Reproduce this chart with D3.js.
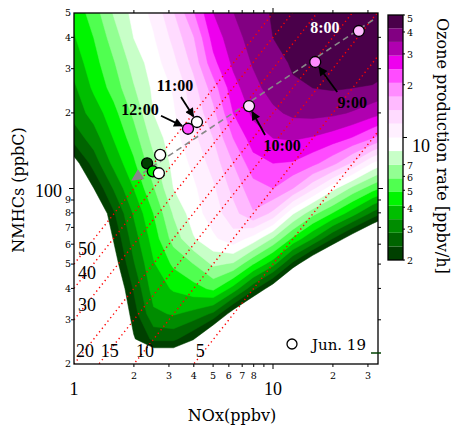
<!DOCTYPE html>
<html>
<head>
<meta charset="utf-8">
<script src="https://cdn.jsdelivr.net/npm/d3@7"></script>
<style>
  body { margin: 0; background: #fff; }
  text { font-family: "DejaVu Serif", serif; fill: #000; }
  .big { font-family: "Liberation Serif", serif; font-size: 18px; }
  .small { font-size: 9.5px; }
  .lbl { font-family: "Liberation Serif", serif; font-weight: bold; font-size: 16px; }
</style>
</head>
<body>
<div id="chart"></div>
<script>
// grid of the model field, NOx along x, NMHCs along y (top row first)
const noxGrid = [1, 1.26, 1.58, 2.0, 2.51, 3.16, 3.98, 5.01, 6.31, 7.94, 10, 12.6, 15.8, 20.0, 25.1, 31.6, 39.8];
const nmhcGrid = [501, 398, 316, 251, 200, 158, 126, 100, 79.4, 63.1, 50.1, 39.8, 31.6, 25.1, 20.0];
// ozone production rate [ppbv/h]
const rateGrid = [
  [4.32, 5.35, 7.13, 8.84, 10.5, 14.1, 20.1, 29.3, 35.0, 39.0, 42.7, 45.1, 47.6, 50.0, 52.8, 54.7, 56.7],
  [4.02, 4.90, 6.40, 8.38, 9.84, 12.6, 16.8, 26.3, 32.7, 37.7, 42.0, 44.3, 46.7, 49.3, 50.9, 51.8, 51.8],
  [3.68, 4.56, 5.75, 7.52, 9.16, 11.4, 15.1, 23.2, 30.4, 35.7, 39.8, 42.7, 45.1, 46.7, 47.6, 47.6, 44.3],
  [3.30, 4.24, 5.26, 6.88, 8.68, 10.2, 13.3, 18.7, 27.3, 33.2, 37.7, 41.2, 42.0, 42.7, 42.0, 41.2, 38.4],
  [3.07, 3.68, 4.60, 6.07, 8.38, 9.75, 12.5, 16.2, 24.5, 30.4, 33.8, 36.4, 37.0, 36.4, 34.5, 31.5, 28.3],
  [2.57, 3.13, 4.13, 5.35, 7.52, 9.32, 11.4, 14.3, 20.5, 26.8, 29.3, 29.9, 28.8, 26.8, 24.1, 20.5, 16.5],
  [1.82, 2.59, 3.61, 4.72, 6.64, 8.84, 10.4, 12.9, 17.1, 22.8, 24.5, 24.1, 21.6, 18.1, 13.8, 9.84, 7.80],
  [1.28, 2.00, 2.91, 4.09, 5.75, 8.38, 9.66, 11.6, 15.1, 19.1, 20.5, 17.1, 12.4, 8.84, 6.64, 5.26, 4.32],
  [0.94, 1.46, 2.33, 3.48, 4.90, 7.13, 9.16, 11.0, 13.3, 16.8, 13.6, 8.53, 6.18, 4.81, 3.68, 2.71, 2.07],
  [0.83, 1.30, 2.04, 3.13, 4.43, 6.29, 8.23, 9.66, 11.2, 9.32, 6.88, 4.72, 3.42, 2.39, 1.73, 1.28, 0.98],
  [0.73, 1.15, 1.80, 2.81, 4.02, 5.07, 5.86, 7.26, 6.88, 4.98, 3.68, 2.27, 1.53, 1.11, 0.79, 0.59, 0.45],
  [0.64, 1.00, 1.56, 2.43, 3.74, 4.17, 4.56, 5.07, 3.81, 2.52, 1.73, 1.07, 0.72, 0.52, 0.40, 0.31, 0.23],
  [0.57, 0.89, 1.40, 2.19, 3.30, 3.48, 3.24, 2.76, 1.76, 1.21, 0.82, 0.50, 0.37, 0.28, 0.23, 0.20, 0.16],
  [0.51, 0.80, 1.26, 1.96, 2.50, 2.50, 2.04, 1.33, 0.85, 0.57, 0.40, 0.28, 0.23, 0.20, 0.16, 0.14, 0.11],
  [0.40, 0.63, 0.98, 1.28, 1.33, 1.33, 1.11, 0.63, 0.40, 0.28, 0.20, 0.14, 0.11, 0.10, 0.08, 0.07, 0.06]
];

const rateLevels = [2, 2.39, 2.86, 3.42, 4.09, 4.89, 5.85, 7.0, 8.37, 10, 12.0, 14.3, 17.1, 20.5, 24.5, 29.3, 35.1, 42.0, 50];
const levelColors = ["#004000", "#006400", "#008c00", "#00be00", "#00f500", "#50ff50", "#92ff92", "#c8ffc8", "#ffffff",
  "#fff0ff", "#ffdbff", "#ffbaff", "#ff8cff", "#ff4cff", "#ee00ee", "#b000b0", "#820082", "#4a004a"];
const cbTicks = [2, 3, 4, 5, 6, 7, 10, 20, 30, 40, 50];

// NMHC/NOx ratio lines
const ratios = [50, 40, 30, 20, 15, 10, 5];

// observations, Jun. 19
const obsTime = ["8:00", "9:00", "10:00", "11:00", "12:00", "13:00", "14:00", "15:00", "16:00"];
const obsNOx = [27.0, 16.3, 7.58, 4.15, 3.74, 2.71, 2.33, 2.49, 2.67];
const obsNMHC = [424, 319, 213, 184, 173, 136, 126, 117, 115];
const obsRate = [15, 19, 13, 9.2, 22, 9.0, 2.2, 4.5, 9.0];
// regression line of the morning points (start, end)
const trendNOx = [31.8, 1.96];
const trendNMHC = [469, 108];

const xTicksMinor = [2, 3, 4, 5, 6, 7, 8, 9, 20, 30];
const xLabelsMinor = [2, 3, 4, 5, 6, 7, 8, 20, 30];
const yTicksMinor = [30, 40, 50, 60, 70, 80, 90, 200, 300, 400];
const yLabelsMinor = [20, 30, 40, 50, 60, 70, 80, 90, 200, 300, 400, 500];

const W = 451, H = 425;
const svg = d3.select("#chart").append("svg").attr("width", W).attr("height", H);

const x = d3.scaleLog().domain([1, 33.7]).range([74, 378]);
const y = d3.scaleLog().domain([20, 500]).range([364, 13]);

const defs = svg.append("defs");
defs.append("clipPath").attr("id", "plotclip").append("rect")
  .attr("x", 74).attr("y", 13).attr("width", 304).attr("height", 351);
defs.append("marker").attr("id", "blackhead")
  .attr("viewBox", "0 0 10 10").attr("refX", 9).attr("refY", 5)
  .attr("markerWidth", 11).attr("markerHeight", 9).attr("markerUnits", "userSpaceOnUse")
  .attr("orient", "auto")
  .append("path").attr("d", "M0,0L10,5L0,10Z").attr("fill", "#000");
defs.append("marker").attr("id", "grayhead")
  .attr("viewBox", "0 0 10 10").attr("refX", 9).attr("refY", 5)
  .attr("markerWidth", 18).attr("markerHeight", 12).attr("markerUnits", "userSpaceOnUse")
  .attr("orient", "auto")
  .append("path").attr("d", "M0,0L10,5L0,10Z").attr("fill", "#888");

// ---- contour field ----
const n = noxGrid.length, m = nmhcGrid.length;
const gx = d3.scaleLinear().domain([0.5, n - 0.5]).range([Math.log10(noxGrid[0]), Math.log10(noxGrid[n - 1])]);
const gy = d3.scaleLinear().domain([0.5, m - 0.5]).range([Math.log10(nmhcGrid[0]), Math.log10(nmhcGrid[m - 1])]);
const toPlot = d3.geoTransform({
  point: function(px, py) { this.stream.point(x(Math.pow(10, gx(px))), y(Math.pow(10, gy(py)))); }
});
const path = d3.geoPath(toPlot);

const field = rateGrid.flat().map(v => Math.log10(v));
const bands = d3.contours().size([n, m])
  .thresholds(rateLevels.slice(0, 18).map(v => Math.log10(v)))(field);

const plot = svg.append("g").attr("clip-path", "url(#plotclip)");
plot.selectAll("path.band")
  .data(bands)
  .enter().append("path")
  .attr("class", "band")
  .attr("d", path)
  .attr("fill", (d, i) => levelColors[i])
  .attr("stroke", (d, i) => levelColors[i])
  .attr("stroke-width", 0.5);

// ratio lines
const line = d3.line().x(d => x(d[0])).y(d => y(d[1]));
plot.selectAll(".ratio")
  .data(ratios)
  .enter().append("path")
  .attr("class", "ratio")
  .attr("d", r => line([[1, r], [33.7, 33.7 * r]]))
  .attr("fill", "none")
  .attr("stroke", "#ff0000")
  .attr("stroke-width", 1.4)
  .attr("stroke-dasharray", "1.3,3.2");

// trend line with arrow
plot.append("path")
  .attr("d", line([[trendNOx[0], trendNMHC[0]], [trendNOx[1], trendNMHC[1]]]))
  .attr("fill", "none")
  .attr("stroke", "#888")
  .attr("stroke-width", 1.6)
  .attr("stroke-dasharray", "6,4")
  .attr("marker-end", "url(#grayhead)");

// ratio labels
svg.selectAll(".rlab")
  .data(ratios)
  .enter().append("text")
  .attr("class", "big")
  .attr("x", r => r > 20 ? 78 : x(20 / r) + 2)
  .attr("y", r => r > 20 ? y(r) - 9 : 357)
  .text(r => r);

// observation points
const fillScale = d3.scaleThreshold().domain(rateLevels.slice(1, 18)).range(levelColors);
const obs = obsTime.map((t, i) => ({ t: t, nox: obsNOx[i], nmhc: obsNMHC[i], rate: obsRate[i] }));
svg.selectAll(".obs")
  .data(obs)
  .enter().append("circle")
  .attr("class", "obs")
  .attr("cx", d => x(d.nox))
  .attr("cy", d => y(d.nmhc))
  .attr("r", 5.5)
  .attr("fill", d => fillScale(d.rate))
  .attr("stroke", "#000")
  .attr("stroke-width", 1.3);

// time labels: offsets of label centre and arrow tail from the point
const notes = [
  { t: "8:00", lx: -34, ly: 2, color: "#fff" },
  { t: "9:00", lx: 37, ly: 46, ax: 22, ay: 30 },
  { t: "10:00", lx: 33, ly: 45, ax: 16, ay: 29 },
  { t: "11:00", lx: -22, ly: -31, ax: -16, ay: -25 },
  { t: "12:00", lx: -48, ly: -14, ax: -27, ay: -13 }
];
notes.forEach(nt => {
  const p = obs.find(o => o.t === nt.t);
  const px = x(p.nox), py = y(p.nmhc);
  if (nt.ax !== undefined) {
    const len = Math.hypot(nt.ax, nt.ay);
    svg.append("line")
      .attr("x1", px + nt.ax).attr("y1", py + nt.ay)
      .attr("x2", px + nt.ax * 6.5 / len).attr("y2", py + nt.ay * 6.5 / len)
      .attr("stroke", "#000").attr("stroke-width", 1.8)
      .attr("marker-end", "url(#blackhead)");
  }
  svg.append("text")
    .attr("class", "lbl")
    .attr("x", px + nt.lx).attr("y", py + nt.ly)
    .attr("text-anchor", "middle")
    .style("fill", nt.color || "#000")
    .text(nt.t);
});

// ---- axes ----
svg.append("rect").attr("x", 74).attr("y", 13).attr("width", 304).attr("height", 351)
  .attr("fill", "none").attr("stroke", "#000").attr("stroke-width", 1.3);

const tickG = svg.append("g").attr("stroke", "#000").attr("stroke-width", 1);
xTicksMinor.concat([10]).forEach(v => {
  const len = v === 10 ? 5 : 3;
  tickG.append("line").attr("x1", x(v)).attr("x2", x(v)).attr("y1", 364).attr("y2", 364 + len);
  tickG.append("line").attr("x1", x(v)).attr("x2", x(v)).attr("y1", 13).attr("y2", 13 - len);
});
yTicksMinor.concat([100]).forEach(v => {
  const len = v === 100 ? 5 : 3;
  tickG.append("line").attr("y1", y(v)).attr("y2", y(v)).attr("x1", 74).attr("x2", 74 - len);
  tickG.append("line").attr("y1", y(v)).attr("y2", y(v)).attr("x1", 378).attr("x2", 378 + len);
});

svg.selectAll(".xl")
  .data(xLabelsMinor)
  .enter().append("text")
  .attr("class", "small")
  .attr("x", d => x(d)).attr("y", 379)
  .attr("text-anchor", "middle")
  .text(d => String(d)[0]);
svg.selectAll(".xb")
  .data([1, 10])
  .enter().append("text")
  .attr("class", "big")
  .attr("x", d => x(d)).attr("y", 395)
  .attr("text-anchor", "middle")
  .text(d => d);

svg.selectAll(".yl")
  .data(yLabelsMinor)
  .enter().append("text")
  .attr("class", "small")
  .attr("x", 71).attr("y", d => y(d)).attr("dy", "0.35em")
  .attr("text-anchor", "end")
  .text(d => String(d)[0]);
svg.append("text").attr("class", "big")
  .attr("x", 62).attr("y", y(100) + 2).attr("dy", "0.35em")
  .attr("text-anchor", "end").text("100");

svg.append("text")
  .attr("x", 232).attr("y", 421)
  .attr("text-anchor", "middle")
  .style("font-size", "16px")
  .text("NOx(ppbv)");
svg.append("text")
  .attr("transform", "translate(24," + 190 + ") rotate(-90)")
  .attr("text-anchor", "middle")
  .style("font-size", "16px")
  .text("NMHCs (ppbC)");

// legend
svg.append("circle").attr("cx", 292).attr("cy", 344).attr("r", 5)
  .attr("fill", "#fff").attr("stroke", "#000").attr("stroke-width", 1.3);
svg.append("text").attr("x", 312).attr("y", 350).style("font-size", "15px").text("Jun. 19");
svg.append("line").attr("x1", 371).attr("x2", 381).attr("y1", 353).attr("y2", 353)
  .attr("stroke", "#004000").attr("stroke-width", 1.5);

// ---- colour bar ----
const cb = d3.scaleLog().domain([2, 50]).range([260, 15]);
const cbG = svg.append("g");
cbG.selectAll("rect")
  .data(levelColors)
  .enter().append("rect")
  .attr("x", 388).attr("width", 15)
  .attr("y", (c, i) => cb(rateLevels[i + 1]))
  .attr("height", (c, i) => cb(rateLevels[i]) - cb(rateLevels[i + 1]))
  .attr("fill", c => c);
cbG.append("rect").attr("x", 388).attr("y", 15).attr("width", 15).attr("height", 245)
  .attr("fill", "none").attr("stroke", "#000").attr("stroke-width", 1.3);
cbG.selectAll(".cbt")
  .data(cbTicks)
  .enter().append("line")
  .attr("x1", 403).attr("x2", d => d === 10 ? 407 : 405)
  .attr("y1", d => cb(d)).attr("y2", d => cb(d))
  .attr("stroke", "#000");
cbG.selectAll(".cbl")
  .data(cbTicks.filter(d => d !== 10))
  .enter().append("text")
  .attr("class", "small")
  .attr("x", 407).attr("y", d => cb(d) + (d === 50 ? 4 : 1)).attr("dy", "0.35em")
  .text(d => String(d)[0]);
cbG.append("text").attr("class", "big")
  .attr("x", 412).attr("y", cb(10) + 8).attr("dy", "0.35em").text("10");
cbG.append("text")
  .attr("transform", "translate(437,18) rotate(90)")
  .style("font-size", "16px")
  .text("Ozone production rate [ppbv/h]");
</script>
</body>
</html>
